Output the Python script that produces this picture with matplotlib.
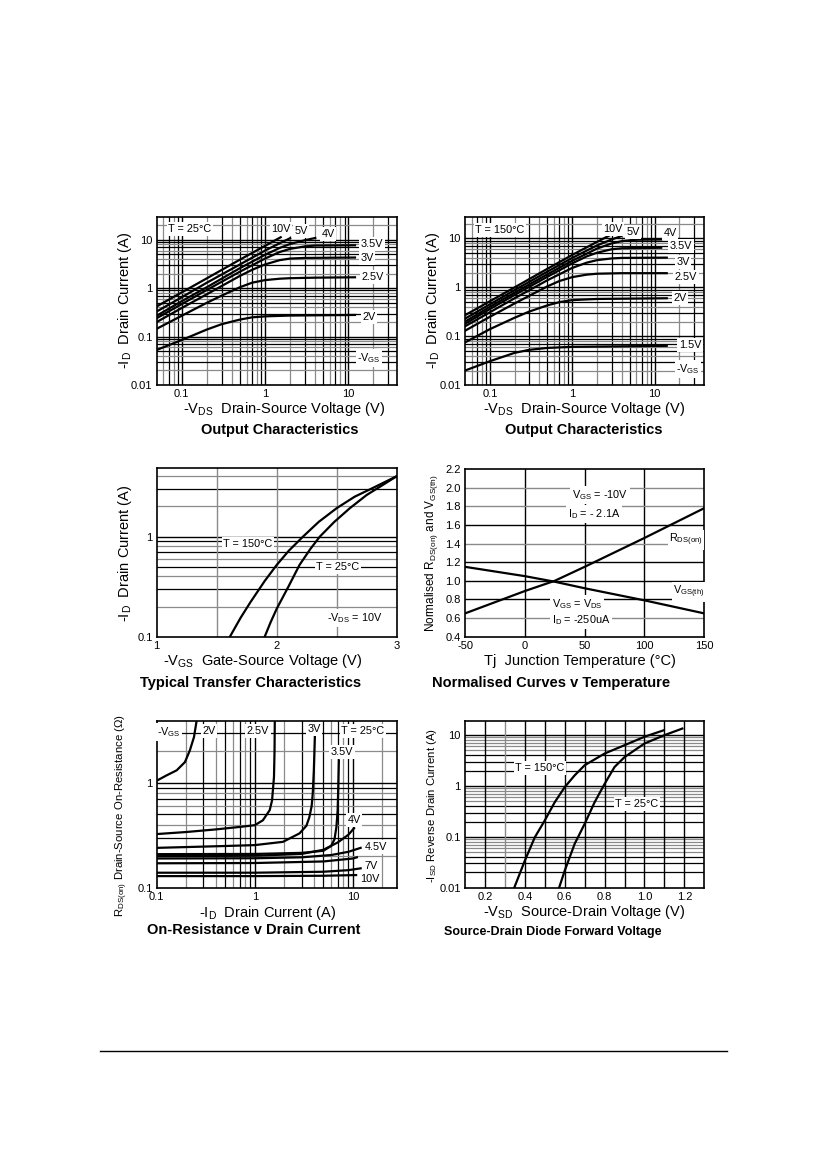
import numpy as np
import matplotlib
matplotlib.use('Agg')
import matplotlib.pyplot as plt
from matplotlib.ticker import FixedLocator, FixedFormatter, NullLocator

plt.rcParams['font.family'] = ['Liberation Sans', 'DejaVu Sans']
plt.rcParams['mathtext.fontset'] = 'custom'
plt.rcParams['mathtext.rm'] = 'Liberation Sans'
plt.rcParams['mathtext.it'] = 'Liberation Sans:italic'
plt.rcParams['mathtext.bf'] = 'Liberation Sans:bold'

# ---------------- DATA ----------------
# Panel 1: Output characteristics, T = 25 C
p1_labels = ['10V', '5V', '4V', '3.5V', '3V', '2.5V', '2V']
p1_vds = [
    [0.05, 0.1, 0.2, 0.5, 1, 1.54],
    [0.05, 0.1, 0.2, 0.5, 1, 1.5, 2.0],
    [0.05, 0.1, 0.2, 0.5, 1, 1.5, 2, 3, 4],
    [0.05, 0.1, 0.2, 0.5, 1, 1.5, 2, 3, 4, 12],
    [0.05, 0.1, 0.2, 0.5, 0.7, 1, 1.5, 2, 3, 12],
    [0.05, 0.1, 0.2, 0.3, 0.5, 0.7, 1, 1.5, 2, 4, 12],
    [0.05, 0.1, 0.2, 0.3, 0.5, 0.7, 1, 2, 12],
]
p1_id = [
    [0.42, 0.82, 1.6, 3.9, 7.5, 11.3],
    [0.33, 0.65, 1.3, 3.1, 6.0, 8.5, 10.8],
    [0.27, 0.54, 1.05, 2.6, 4.9, 6.8, 8.2, 9.8, 10.9],
    [0.24, 0.47, 0.92, 2.2, 4.1, 5.6, 6.5, 7.3, 7.6, 7.7],
    [0.20, 0.39, 0.75, 1.8, 2.4, 3.1, 3.8, 4.1, 4.22, 4.3],
    [0.145, 0.27, 0.5, 0.7, 1.05, 1.3, 1.47, 1.57, 1.61, 1.65, 1.68],
    [0.053, 0.085, 0.14, 0.18, 0.225, 0.25, 0.262, 0.272, 0.28],
]

# Panel 2: Output characteristics, T = 150 C
p2_labels = ['10V', '5V', '4V', '3.5V', '3V', '2.5V', '2V', '1.5V']
p2_vds = [
    [0.05, 0.1, 0.2, 0.5, 1, 2, 3],
    [0.05, 0.1, 0.2, 0.5, 1, 2, 3, 3.9],
    [0.05, 0.1, 0.2, 0.5, 1, 2, 3, 4, 6, 12],
    [0.05, 0.1, 0.2, 0.5, 1, 1.5, 2, 3, 4, 12],
    [0.05, 0.1, 0.2, 0.5, 1, 1.5, 2, 3, 4, 14],
    [0.05, 0.1, 0.2, 0.5, 0.7, 1, 1.5, 2, 4, 14],
    [0.05, 0.1, 0.2, 0.3, 0.5, 0.7, 1, 2, 14],
    [0.05, 0.1, 0.2, 0.3, 0.5, 1, 14],
]
p2_id = [
    [0.27, 0.52, 1.0, 2.4, 4.6, 8.5, 12.1],
    [0.23, 0.45, 0.88, 2.1, 4.0, 7.2, 9.5, 11.1],
    [0.20, 0.40, 0.78, 1.85, 3.5, 6.2, 7.9, 8.8, 9.4, 9.5],
    [0.18, 0.36, 0.70, 1.65, 3.1, 4.3, 5.1, 6.0, 6.3, 6.45],
    [0.16, 0.31, 0.60, 1.4, 2.5, 3.2, 3.6, 3.9, 4.0, 4.05],
    [0.13, 0.25, 0.47, 1.05, 1.35, 1.62, 1.82, 1.9, 1.95, 1.95],
    [0.075, 0.14, 0.24, 0.32, 0.43, 0.50, 0.55, 0.58, 0.60],
    [0.020, 0.031, 0.046, 0.053, 0.058, 0.061, 0.064],
]

# Panel 3: Typical transfer characteristics (VDS = 10V)
p3_vgs_150 = [1.61, 1.7, 1.78, 1.9, 2.0, 2.1, 2.22, 2.35, 2.5, 2.65, 2.8, 3.0]
p3_id_150 = [0.1, 0.155, 0.22, 0.36, 0.52, 0.72, 1.0, 1.4, 1.92, 2.5, 3.05, 4.0]
p3_vgs_25 = [1.9, 1.95, 2.0, 2.1, 2.19, 2.28, 2.36, 2.48, 2.61, 2.75, 2.88, 3.0]
p3_id_25 = [0.1, 0.14, 0.19, 0.32, 0.52, 0.75, 1.0, 1.4, 1.92, 2.6, 3.25, 4.0]

# Panel 4: Normalised curves v temperature
p4_tj = [-50, 0, 25, 50, 100, 150]
p4_rds = [0.65, 0.89, 1.0, 1.15, 1.46, 1.78]
p4_vth = [1.15, 1.05, 0.99, 0.92, 0.79, 0.65]

# Panel 5: On-resistance v drain current (T = 25 C)
p5_labels = ['2V', '2.5V', '3V', '3.5V', '4V', '4.5V', '5V', '7V', '10V']
p5_id = [
    [0.1, 0.126, 0.16, 0.194, 0.218, 0.24, 0.255],
    [0.1, 0.2, 0.4, 0.7, 1.0, 1.21, 1.42, 1.5, 1.57, 1.59, 1.6],
    [0.1, 0.5, 1, 1.94, 2.86, 3.36, 3.6, 3.8, 3.9, 4.0, 4.1],
    [0.1, 1, 3, 5, 6, 6.5, 6.8, 7.0, 7.1, 7.2],
    [0.1, 1, 3, 5, 7, 9, 10.3],
    [0.1, 1, 3, 6, 9, 12],
    [0.1, 1, 5, 10, 11],
    [0.1, 1, 5, 9, 12],
    [0.1, 1, 5, 10.8],
]
p5_rds = [
    [1.05, 1.18, 1.32, 1.58, 2.05, 2.74, 3.9],
    [0.325, 0.34, 0.36, 0.38, 0.395, 0.44, 0.55, 0.68, 1.14, 2.0, 3.9],
    [0.24, 0.25, 0.255, 0.274, 0.33, 0.39, 0.47, 0.6, 0.79, 1.3, 2.74],
    [0.209, 0.21, 0.215, 0.225, 0.25, 0.29, 0.38, 0.55, 0.9, 1.64],
    [0.20, 0.202, 0.21, 0.23, 0.27, 0.32, 0.37],
    [0.19, 0.191, 0.195, 0.205, 0.22, 0.24],
    [0.171, 0.172, 0.178, 0.19, 0.195],
    [0.139, 0.139, 0.142, 0.147, 0.153],
    [0.129, 0.129, 0.13, 0.132],
]

# Panel 6: Source-drain diode forward voltage
p6_vsd_150 = [0.347, 0.4, 0.45, 0.5, 0.55, 0.6, 0.65, 0.7, 0.8, 0.9, 1.0, 1.097]
p6_isd_150 = [0.01, 0.034, 0.098, 0.21, 0.48, 0.95, 1.62, 2.56, 4.35, 6.35, 9.3, 12.5]
p6_vsd_25 = [0.572, 0.6, 0.65, 0.7, 0.75, 0.8, 0.85, 0.9, 1.0, 1.1, 1.19]
p6_isd_25 = [0.01, 0.0216, 0.073, 0.18, 0.48, 1.1, 2.37, 3.7, 6.85, 10.0, 13.5]

# tick labels
log_x_ticks_out = [0.1, 1, 10]
log_x_labels_out = ['0.1', '1', '10']
log_y_ticks_out = [0.01, 0.1, 1, 10]
log_y_labels_out = ['0.01', '0.1', '1', '10']
p3_x_ticks = [1, 2, 3]
p3_y_ticks = [0.1, 1]
p4_x_ticks = [-50, 0, 50, 100, 150]
p4_y_ticks = [0.4, 0.6, 0.8, 1.0, 1.2, 1.4, 1.6, 1.8, 2.0, 2.2]
p5_y_ticks = [0.1, 1]
p6_x_ticks = [0.2, 0.4, 0.6, 0.8, 1.0, 1.2]

# ---------------- FIGURE ----------------
W, H = 826, 1169
fig = plt.figure(figsize=(W / 100, H / 100), dpi=100)
fig.patch.set_facecolor('white')

GRAY = '#8a8a8a'
TICK_FS = 8
LAB_FS = 10.5
TITLE_FS = 10.5
ANN_FS = 7.8
LW = 1.6
BOX = dict(boxstyle='square,pad=0.15', fc='white', ec='none')


def ax_at(l, t, r, b):
    ax = fig.add_axes([l / W, 1 - b / H, (r - l) / W, (b - t) / H])
    for s in ax.spines.values():
        s.set_linewidth(1.2)
        s.set_zorder(5)
    ax.tick_params(length=0, labelsize=TICK_FS, pad=3)
    return ax


def ftext(x, y, s, **kw):
    return fig.text(x / W, 1 - y / H, s, **kw)


def log_grid(ax, which, lo, hi, style='alt'):
    line = ax.axhline if which == 'y' else ax.axvline
    e0 = int(np.floor(np.log10(lo))) - 1
    e1 = int(np.ceil(np.log10(hi))) + 1
    for e in range(e0, e1):
        for m in range(1, 10):
            v = m * 10.0 ** e
            if lo < v < hi:
                if m == 1:
                    line(v, color='black', lw=1.0, zorder=0)
                else:
                    if style == 'alt':
                        c = 'black' if m % 2 == 1 else GRAY
                    else:
                        c = 'black' if m <= 4 else GRAY
                    line(v, color=c, lw=0.9, zorder=0)


def set_ticks(ax, xt, xl, yt, yl):
    ax.xaxis.set_major_locator(FixedLocator(xt))
    ax.xaxis.set_major_formatter(FixedFormatter(xl))
    ax.yaxis.set_major_locator(FixedLocator(yt))
    ax.yaxis.set_major_formatter(FixedFormatter(yl))
    ax.xaxis.set_minor_locator(NullLocator())
    ax.yaxis.set_minor_locator(NullLocator())


# ---------- Panel 1 ----------
ax1 = ax_at(156.7, 216.7, 396.7, 385)
ax1.set_xscale('log'); ax1.set_yscale('log')
ax1.set_xlim(0.05, 38); ax1.set_ylim(0.01, 30)
log_grid(ax1, 'x', 0.05, 38); log_grid(ax1, 'y', 0.01, 30)
for xs, ys in zip(p1_vds, p1_id):
    ax1.plot(xs, ys, color='black', lw=LW, zorder=3)
set_ticks(ax1, log_x_ticks_out, log_x_labels_out, log_y_ticks_out, log_y_labels_out)
ftext(190, 229, 'T = 25°C', fontsize=ANN_FS, ha='center', va='center', bbox=BOX)
for lab, (x, y) in zip(p1_labels, [(281, 229), (301, 231), (328, 234), (372, 244),
                                    (367, 258), (373, 277), (369, 317)]):
    ftext(x, y, lab, fontsize=ANN_FS, ha='center', va='center', bbox=BOX)
ftext(369, 358, r'-V$_{\mathrm{GS}}$', fontsize=ANN_FS, ha='center', va='center', bbox=BOX)
ftext(125, 300, r'-I$_{\mathrm{D}}$  Drain Current (A)', fontsize=LAB_FS, rotation=90,
      ha='center', va='center')
ftext(284, 409, r'-V$_{\mathrm{DS}}$  Drain-Source Voltage (V)', fontsize=LAB_FS,
      ha='center', va='center')
ftext(280, 430, 'Output Characteristics', fontsize=TITLE_FS, fontweight='bold',
      ha='center', va='center')

# ---------- Panel 2 ----------
ax2 = ax_at(465, 217.3, 704.3, 385.3)
ax2.set_xscale('log'); ax2.set_yscale('log')
ax2.set_xlim(0.05, 40); ax2.set_ylim(0.01, 27)
log_grid(ax2, 'x', 0.05, 40); log_grid(ax2, 'y', 0.01, 27)
for xs, ys in zip(p2_vds, p2_id):
    ax2.plot(xs, ys, color='black', lw=LW, zorder=3)
set_ticks(ax2, log_x_ticks_out, log_x_labels_out, log_y_ticks_out, log_y_labels_out)
ftext(500, 230, 'T = 150°C', fontsize=ANN_FS, ha='center', va='center', bbox=BOX)
for lab, (x, y) in zip(p2_labels, [(613, 229), (633, 232), (670, 233), (681, 246),
                                    (683, 262), (686, 277), (680, 298), (690, 345)]):
    ftext(x, y, lab, fontsize=ANN_FS, ha='center', va='center', bbox=BOX)
ftext(688, 369, r'-V$_{\mathrm{GS}}$', fontsize=ANN_FS, ha='center', va='center', bbox=BOX)
ftext(433, 300, r'-I$_{\mathrm{D}}$  Drain Current (A)', fontsize=LAB_FS, rotation=90,
      ha='center', va='center')
ftext(584, 409, r'-V$_{\mathrm{DS}}$  Drain-Source Voltage (V)', fontsize=LAB_FS,
      ha='center', va='center')
ftext(584, 430, 'Output Characteristics', fontsize=TITLE_FS, fontweight='bold',
      ha='center', va='center')

# ---------- Panel 3 ----------
ax3 = ax_at(156.7, 468.3, 396.7, 636.7)
ax3.set_yscale('log')
ax3.set_xlim(1, 3); ax3.set_ylim(0.1, 4.8)
log_grid(ax3, 'y', 0.1, 4.8)
for v in [1.5, 2.0, 2.5]:
    ax3.axvline(v, color=GRAY, lw=1.0, zorder=0)
ax3.plot(p3_vgs_150, p3_id_150, color='black', lw=LW, zorder=3)
ax3.plot(p3_vgs_25, p3_id_25, color='black', lw=LW, zorder=3)
set_ticks(ax3, p3_x_ticks, ['1', '2', '3'], p3_y_ticks, ['0.1', '1'])
ftext(248, 544, 'T = 150°C', fontsize=ANN_FS, ha='center', va='center', bbox=BOX)
ftext(338, 567, 'T = 25°C', fontsize=ANN_FS, ha='center', va='center', bbox=BOX)
ftext(355, 618, r'-V$_{\mathrm{DS}}$ = 10V', fontsize=ANN_FS, ha='center', va='center', bbox=BOX)
ftext(125, 553, r'-I$_{\mathrm{D}}$  Drain Current (A)', fontsize=LAB_FS, rotation=90,
      ha='center', va='center')
ftext(263, 661, r'-V$_{\mathrm{GS}}$  Gate-Source Voltage (V)', fontsize=LAB_FS,
      ha='center', va='center')
ftext(251, 683, 'Typical Transfer Characteristics', fontsize=TITLE_FS, fontweight='bold',
      ha='center', va='center')

# ---------- Panel 4 ----------
ax4 = ax_at(465, 469, 704.3, 636.7)
ax4.set_xlim(-50, 150); ax4.set_ylim(0.4, 2.2)
for v in [0, 50, 100]:
    ax4.axvline(v, color='black', lw=1.0, zorder=0)
for v, c in zip([0.6, 0.8, 1.0, 1.2, 1.4, 1.6, 1.8, 2.0],
                [GRAY, 'black', 'black', 'black', GRAY, 'black', GRAY, GRAY]):
    ax4.axhline(v, color=c, lw=1.0, zorder=0)
ax4.plot(p4_tj, p4_rds, color='black', lw=LW, zorder=3)
ax4.plot(p4_tj, p4_vth, color='black', lw=LW, zorder=3)
set_ticks(ax4, p4_x_ticks, [str(v) for v in p4_x_ticks],
          p4_y_ticks, ['%.1f' % v for v in p4_y_ticks])
ftext(600, 495, r'V$_{\mathrm{GS}}$ = -10V', fontsize=ANN_FS, ha='center', va='center', bbox=BOX)
ftext(594, 514, r'I$_{\mathrm{D}}$ = - 2.1A', fontsize=ANN_FS, ha='center', va='center', bbox=BOX)
ftext(686, 540, r'R$_{\mathrm{DS(on)}}$', fontsize=ANN_FS, ha='center', va='center', bbox=BOX)
ftext(689, 592, r'V$_{\mathrm{GS(th)}}$', fontsize=ANN_FS, ha='center', va='center', bbox=BOX)
ftext(577, 604, r'V$_{\mathrm{GS}}$ = V$_{\mathrm{DS}}$', fontsize=ANN_FS, ha='center',
      va='center', bbox=BOX)
ftext(581, 620, r'I$_{\mathrm{D}}$ = -250uA', fontsize=ANN_FS, ha='center', va='center', bbox=BOX)
ftext(432, 553, r'Normalised R$_{\mathrm{DS(on)}}$ and V$_{\mathrm{GS(th)}}$', fontsize=8.5,
      rotation=90, ha='center', va='center')
ftext(580, 661, 'Tj  Junction Temperature (°C)', fontsize=LAB_FS, ha='center', va='center')
ftext(551, 683, 'Normalised Curves v Temperature', fontsize=TITLE_FS, fontweight='bold',
      ha='center', va='center')

# ---------- Panel 5 ----------
ax5 = ax_at(156.7, 721, 396.7, 887.7)
ax5.set_xscale('log'); ax5.set_yscale('log')
ax5.set_xlim(0.1, 28); ax5.set_ylim(0.1, 3.9)
log_grid(ax5, 'x', 0.1, 28); log_grid(ax5, 'y', 0.1, 3.9)
for xs, ys in zip(p5_id, p5_rds):
    ax5.plot(xs, ys, color='black', lw=LW, zorder=3)
set_ticks(ax5, log_x_ticks_out, log_x_labels_out, p5_y_ticks, ['0.1', '1'])
ftext(169, 732, r'-V$_{\mathrm{GS}}$', fontsize=ANN_FS, ha='center', va='center', bbox=BOX)
for lab, (x, y) in zip(['2V', '2.5V', '3V', '3.5V', '4V', '4.5V', '7V', '10V'],
                       [(209, 731), (258, 731), (314, 729), (342, 752),
                        (354, 820), (376, 847), (371, 866), (370, 879)]):
    ftext(x, y, lab, fontsize=ANN_FS, ha='center', va='center', bbox=BOX)
ftext(363, 731, 'T = 25°C', fontsize=ANN_FS, ha='center', va='center', bbox=BOX)
ftext(122, 815, r'R$_{\mathrm{DS(on)}}$ Drain-Source On-Resistance (Ω)', fontsize=8.2,
      rotation=90, ha='center', va='center')
ftext(268, 913, r'-I$_{\mathrm{D}}$  Drain Current (A)', fontsize=LAB_FS,
      ha='center', va='center')
ftext(254, 930, 'On-Resistance v Drain Current', fontsize=TITLE_FS, fontweight='bold',
      ha='center', va='center')

# ---------- Panel 6 ----------
ax6 = ax_at(465, 721, 704.3, 887.7)
ax6.set_yscale('log')
ax6.set_xlim(0.1, 1.3); ax6.set_ylim(0.01, 19)
log_grid(ax6, 'y', 0.01, 19, style='low')
for v, c in zip([0.2, 0.3, 0.4, 0.5, 0.6, 0.7, 0.8, 0.9, 1.0, 1.1, 1.2],
                ['black', GRAY, 'black', 'black', 'black', 'black', 'black', 'black',
                 'black', 'black', 'black']):
    ax6.axvline(v, color=c, lw=1.0, zorder=0)
ax6.plot(p6_vsd_150, p6_isd_150, color='black', lw=LW, zorder=3)
ax6.plot(p6_vsd_25, p6_isd_25, color='black', lw=LW, zorder=3)
set_ticks(ax6, p6_x_ticks, ['%.1f' % v for v in p6_x_ticks],
          log_y_ticks_out, log_y_labels_out)
ftext(540, 768, 'T = 150°C', fontsize=ANN_FS, ha='center', va='center', bbox=BOX)
ftext(637, 804, 'T = 25°C', fontsize=ANN_FS, ha='center', va='center', bbox=BOX)
ftext(432, 805, r'-I$_{\mathrm{SD}}$ Reverse Drain Current (A)', fontsize=8.2,
      rotation=90, ha='center', va='center')
ftext(584, 912, r'-V$_{\mathrm{SD}}$  Source-Drain Voltage (V)', fontsize=LAB_FS,
      ha='center', va='center')
ftext(553, 932, 'Source-Drain Diode Forward Voltage', fontsize=9, fontweight='bold',
      ha='center', va='center')

# bottom rule
fig.add_artist(plt.Line2D([100 / W, 727 / W], [1 - 1051 / H, 1 - 1051 / H],
                          color='black', lw=1.0))

fig.savefig('out.png', dpi=100, facecolor='white')
